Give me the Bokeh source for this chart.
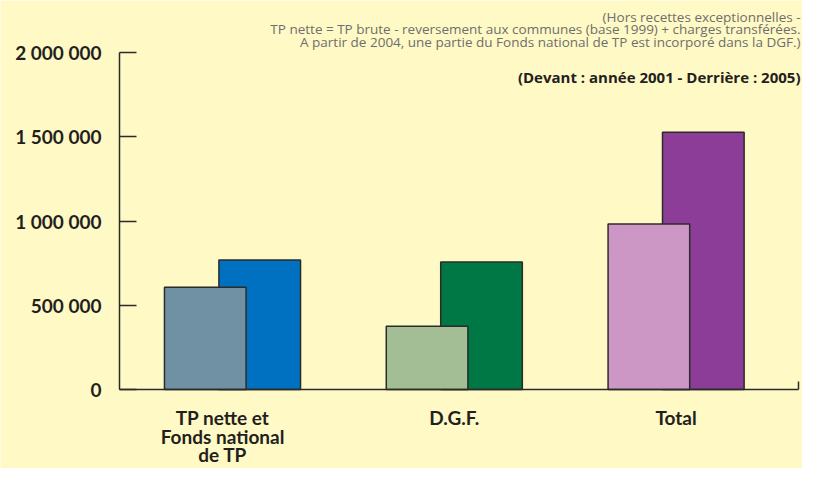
from bokeh.plotting import figure
from bokeh.models import FixedTicker, Label, Range1d
from bokeh.embed import file_html
from bokeh.resources import INLINE

# ---------------- data ----------------
categories = ["TP nette et\nFonds national\nde TP", "D.G.F.", "Total"]
values_2001 = [607000, 375000, 982000]    # front bars
values_2005 = [769000, 757000, 1526000]   # back bars
y_ticks = [0, 500000, 1000000, 1500000, 2000000]
y_tick_labels = ["0", "500 000", "1 000 000", "1 500 000", "2 000 000"]
notes = [
    "(Hors recettes exceptionnelles -",
    "TP nette = TP brute - reversement aux communes (base 1999) + charges transférées.",
    "A partir de 2004, une partie du Fonds national de TP est incorporé dans la DGF.)",
]
order_note = "(Devant : année 2001 - Derrière : 2005)"

# ---------------- style / layout (pixels) ----------------
W, H = 802, 468
BG = "#FFF9C5"
INK = "#231F20"
OUTLINE = "#2B2B2B"
NOTE_COLOR = "#6E6E6E"
front_colors = ["#6F91A3", "#A3BE94", "#CC96C5"]
back_colors = ["#0070C0", "#007846", "#8B3D97"]
FONT = "Lato"
NOTE_FONT = "Open Sans"
BASE_SHIFT = 0.4        # em correction so that the given y is the text baseline

axis_left_px = 119      # y axis line
axis_right_px = 798     # end of x axis line
group0_px = 232         # centre of first group
group_step_px = 221.8   # distance between groups
plot_top_px = 52        # top tick of y axis
plot_bottom_px = 389    # x axis line

pos = list(range(len(categories)))
offset = 0.1227
bar_w = 0.368
label_shift = [-0.045, 0.0, 0.0]

x_start = -group0_px / group_step_px
x_end = (W - group0_px) / group_step_px
x_axis_left = (axis_left_px - group0_px) / group_step_px
x_axis_right = (axis_right_px - group0_px) / group_step_px
y_top = y_ticks[-1]
span_px = plot_bottom_px - plot_top_px
y_start = -y_top * (H - plot_bottom_px) / span_px
y_end = y_top * plot_bottom_px / span_px

p = figure(width=W, height=H, output_backend="svg", toolbar_location=None,
           x_range=Range1d(x_start, x_end), y_range=Range1d(y_start, y_end),
           min_border=0, min_border_left=0, min_border_right=0,
           min_border_top=0, min_border_bottom=0,
           background_fill_color=BG, border_fill_color=BG, outline_line_color=None)
p.xgrid.visible = False
p.ygrid.visible = False

# back bars (2005) then front bars (2001)
p.vbar(x=[c + offset for c in pos], top=values_2005, width=bar_w,
       fill_color=back_colors, line_color=OUTLINE, line_width=1.5)
p.vbar(x=[c - offset for c in pos], top=values_2001, width=bar_w,
       fill_color=front_colors, line_color=OUTLINE, line_width=1.5)

# y axis
ya = p.yaxis[0]
ya.fixed_location = x_axis_left
ya.bounds = (y_ticks[0], y_ticks[-1])
ya.ticker = FixedTicker(ticks=y_ticks, minor_ticks=[])
ya.major_label_overrides = {t: l for t, l in zip(y_ticks, y_tick_labels)}
ya.major_tick_in = 17
ya.major_tick_out = 0
ya.minor_tick_in = 0
ya.minor_tick_out = 0
ya.axis_line_color = OUTLINE
ya.axis_line_width = 1.5
ya.major_tick_line_color = OUTLINE
ya.major_tick_line_width = 1.5
ya.major_label_standoff = 18
ya.major_label_text_font = FONT
ya.major_label_text_font_size = "19px"
ya.major_label_text_font_style = "bold"
ya.major_label_text_color = INK

# x axis: baseline with an end tick
xa = p.xaxis[0]
xa.fixed_location = 0
xa.bounds = (x_axis_left, x_axis_right)
xa.ticker = FixedTicker(ticks=[], minor_ticks=[x_axis_right])
xa.major_tick_line_color = None
xa.major_tick_in = 0
xa.major_tick_out = 0
xa.minor_tick_in = 8
xa.minor_tick_out = 0
xa.minor_tick_line_color = OUTLINE
xa.minor_tick_line_width = 1.5
xa.axis_line_color = OUTLINE
xa.axis_line_width = 1.5
xa.major_label_text_font_size = "0px"


def add_text(x, baseline_px, text, size, font, style, color, align, x_units):
    p.add_layout(Label(x=x, y=H - (baseline_px - BASE_SHIFT * size),
                       x_units=x_units, y_units="screen", text=text,
                       text_align=align, text_baseline="alphabetic",
                       text_font=font, text_font_size=f"{size}px",
                       text_font_style=style, text_color=color))


# category names under the groups
line_gap = 18.5
first_baseline_px = 425
for c, s, name in zip(pos, label_shift, categories):
    for j, line in enumerate(name.split("\n")):
        add_text(c + s, first_baseline_px + j * line_gap, line, 19, FONT, "bold",
                 INK, "center", "data")

# notes at top right
note_right_px = 800
note_baselines_px = [21.5, 34, 46.5]
for t, b in zip(notes, note_baselines_px):
    add_text(note_right_px, b, t, 13.5, NOTE_FONT, "normal", NOTE_COLOR, "right", "screen")
add_text(note_right_px, 82.3, order_note, 15, NOTE_FONT, "bold", INK, "right", "screen")

open("out.html", "w").write(file_html(p, INLINE))
